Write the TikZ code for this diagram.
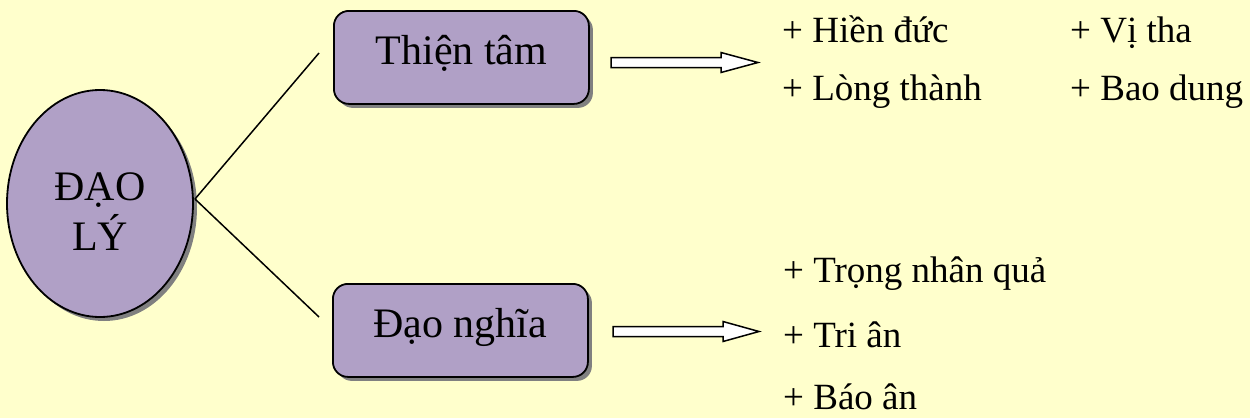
\documentclass[tikz,border=0pt]{standalone}
\usepackage{fontspec}
\setmainfont{Liberation Serif}
\usetikzlibrary{shapes.geometric,shadows}
\definecolor{bgyellow}{HTML}{FFFFCC}
\definecolor{lav}{HTML}{B0A0C6}
\definecolor{shgray}{HTML}{808080}
\tikzset{
  shadowed/.style={drop shadow={shadow xshift=4pt,shadow yshift=-4pt,fill=shgray,opacity=1}},
  ovalbox/.style={ellipse,draw=black,line width=1.8pt,fill=lav,shadowed,minimum width=186pt,minimum height=227pt,inner sep=0pt},
  catbox/.style={rectangle,rounded corners=15pt,draw=black,line width=1.8pt,fill=lav,shadowed,
    minimum width=255pt,text height=54pt,text depth=39pt,inner sep=0pt,font=\fontsize{42}{50}\selectfont},
  bigtext/.style={font=\fontsize{42}{50}\selectfont,align=center,inner sep=0pt},
  itemtext/.style={font=\fontsize{37}{44}\selectfont,anchor=base west,inner sep=0pt},
  link/.style={draw=black,line width=1.5pt},
  blockarrow/.style={draw=black,line width=1.5pt,fill=white,line join=miter}
}
\begin{document}
\begin{tikzpicture}[x=1pt,y=-1pt]
\fill[bgyellow] (0,0) rectangle (1250,418);
\useasboundingbox (0,0) rectangle (1250,418);

% central ellipse
\node[ovalbox] (daoly) at (100,203.5) {};
\node[bigtext] (daolytext) at (100,212) {ĐẠO\\LÝ};

% category boxes
\node[catbox,anchor=north west] (thientam) at (333,10) {Thiện tâm};
\node[catbox,anchor=north west] (daonghia) at (332,283) {Đạo nghĩa};

% connectors
\coordinate (join) at (195,199);
\coordinate (end1) at (319,53);
\coordinate (end2) at (319,317);
\draw[link] (join) -- (end1);
\draw[link] (join) -- (end2);

% block arrows
\coordinate (arr1) at (611,62.5);
\draw[blockarrow] (arr1) ++(0,-5) -- ++(110,0) -- ++(0,-5) -- ++(37,10) -- ++(-37,10) -- ++(0,-5) -- ++(-110,0) -- cycle;
\coordinate (arr2) at (613,331.5);
\draw[blockarrow] (arr2) ++(0,-5) -- ++(110,0) -- ++(0,-5) -- ++(36,10) -- ++(-36,10) -- ++(0,-5) -- ++(-110,0) -- cycle;

% items for Thien tam
\node[itemtext] (hienduc) at (782,42) {+ Hiền đức};
\node[itemtext] (vitha) at (1070,42) {+ Vị tha};
\node[itemtext] (longthanh) at (782,100) {+ Lòng thành};
\node[itemtext] (baodung) at (1070,100) {+ Bao dung};

% items for Dao nghia
\node[itemtext] (trong) at (783,282) {+ Trọng nhân quả};
\node[itemtext] (trian) at (783,347) {+ Tri ân};
\node[itemtext] (baoan) at (783,409) {+ Báo ân};
\end{tikzpicture}
\end{document}
